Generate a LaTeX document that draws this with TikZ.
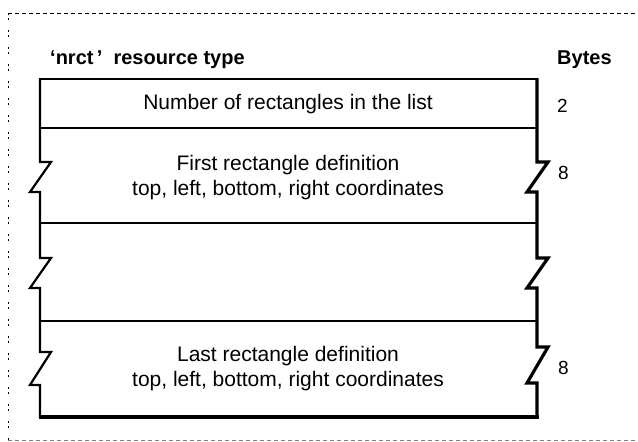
\documentclass[tikz,border=0pt]{standalone}
\usepackage{fontspec}
\setmainfont{Liberation Sans}
\begin{document}
\begin{tikzpicture}[x=1pt,y=-1pt,
  cell/.style={font=\fontsize{21}{25}\selectfont, align=center, inner sep=0pt},
  head/.style={font=\bfseries\fontsize{20}{23}\selectfont, inner sep=0pt},
  size/.style={font=\fontsize{19}{23}\selectfont, inner sep=0pt, anchor=west},
  rule/.style={line width=1.6pt},
  frame/.style={line width=1pt}]
\useasboundingbox (0,0) rectangle (638,442);

% outer frame of the figure
\draw[frame, dash pattern=on 4pt off 3pt] (8,13) -- (640,13);
\draw[frame, dash pattern=on 2pt off 3pt on 2pt off 10pt] (8,13) -- (8,440);
\draw[frame, gray, dash pattern=on 4pt off 3pt] (8,440) -- (640,440);

% headings
\node[head, anchor=west] (title) at (50,60) {`nrct\,'\ \ resource type};
\node[head, anchor=west] (bytes) at (557,60) {Bytes};

% record outline: top and dividers
\draw[rule] (40,79) -- (537,79);
\draw[rule] (40,128) -- (537,128);
\draw[rule] (40,223) -- (537,223);
\draw[rule] (40,321) -- (537,321);

% left edge with break marks
\draw[line width=2.2pt, line join=miter]
  (40,78) -- (40,162) -- (51,162) -- (30,192) -- (40,192)
  -- (40,258) -- (51,258) -- (30,288) -- (40,288)
  -- (40,352) -- (51,352) -- (30,385) -- (40,385) -- (40,418);
% right edge with break marks (shadowed, heavier)
\draw[line width=3.2pt, line join=miter]
  (537,78) -- (537,162) -- (548,162) -- (527,192) -- (537,192)
  -- (537,258) -- (548,258) -- (527,288) -- (537,288)
  -- (537,347) -- (548,347) -- (527,383) -- (537,383) -- (537,417);
% bottom edge
\draw[line width=4pt] (38.9,417) -- (538.6,417);

% field contents
\node[cell] (count) at (288,104) {Number of rectangles in the list};
\node[cell] (first) at (288,178) {First rectangle definition\\top, left, bottom, right coordinates};
\node[cell] (last)  at (288,369) {Last rectangle definition\\top, left, bottom, right coordinates};

% field sizes
\node[size] (n2) at (557,106) {2};
\node[size] (n8a) at (558,173) {8};
\node[size] (n8b) at (558,368) {8};
\end{tikzpicture}
\end{document}
